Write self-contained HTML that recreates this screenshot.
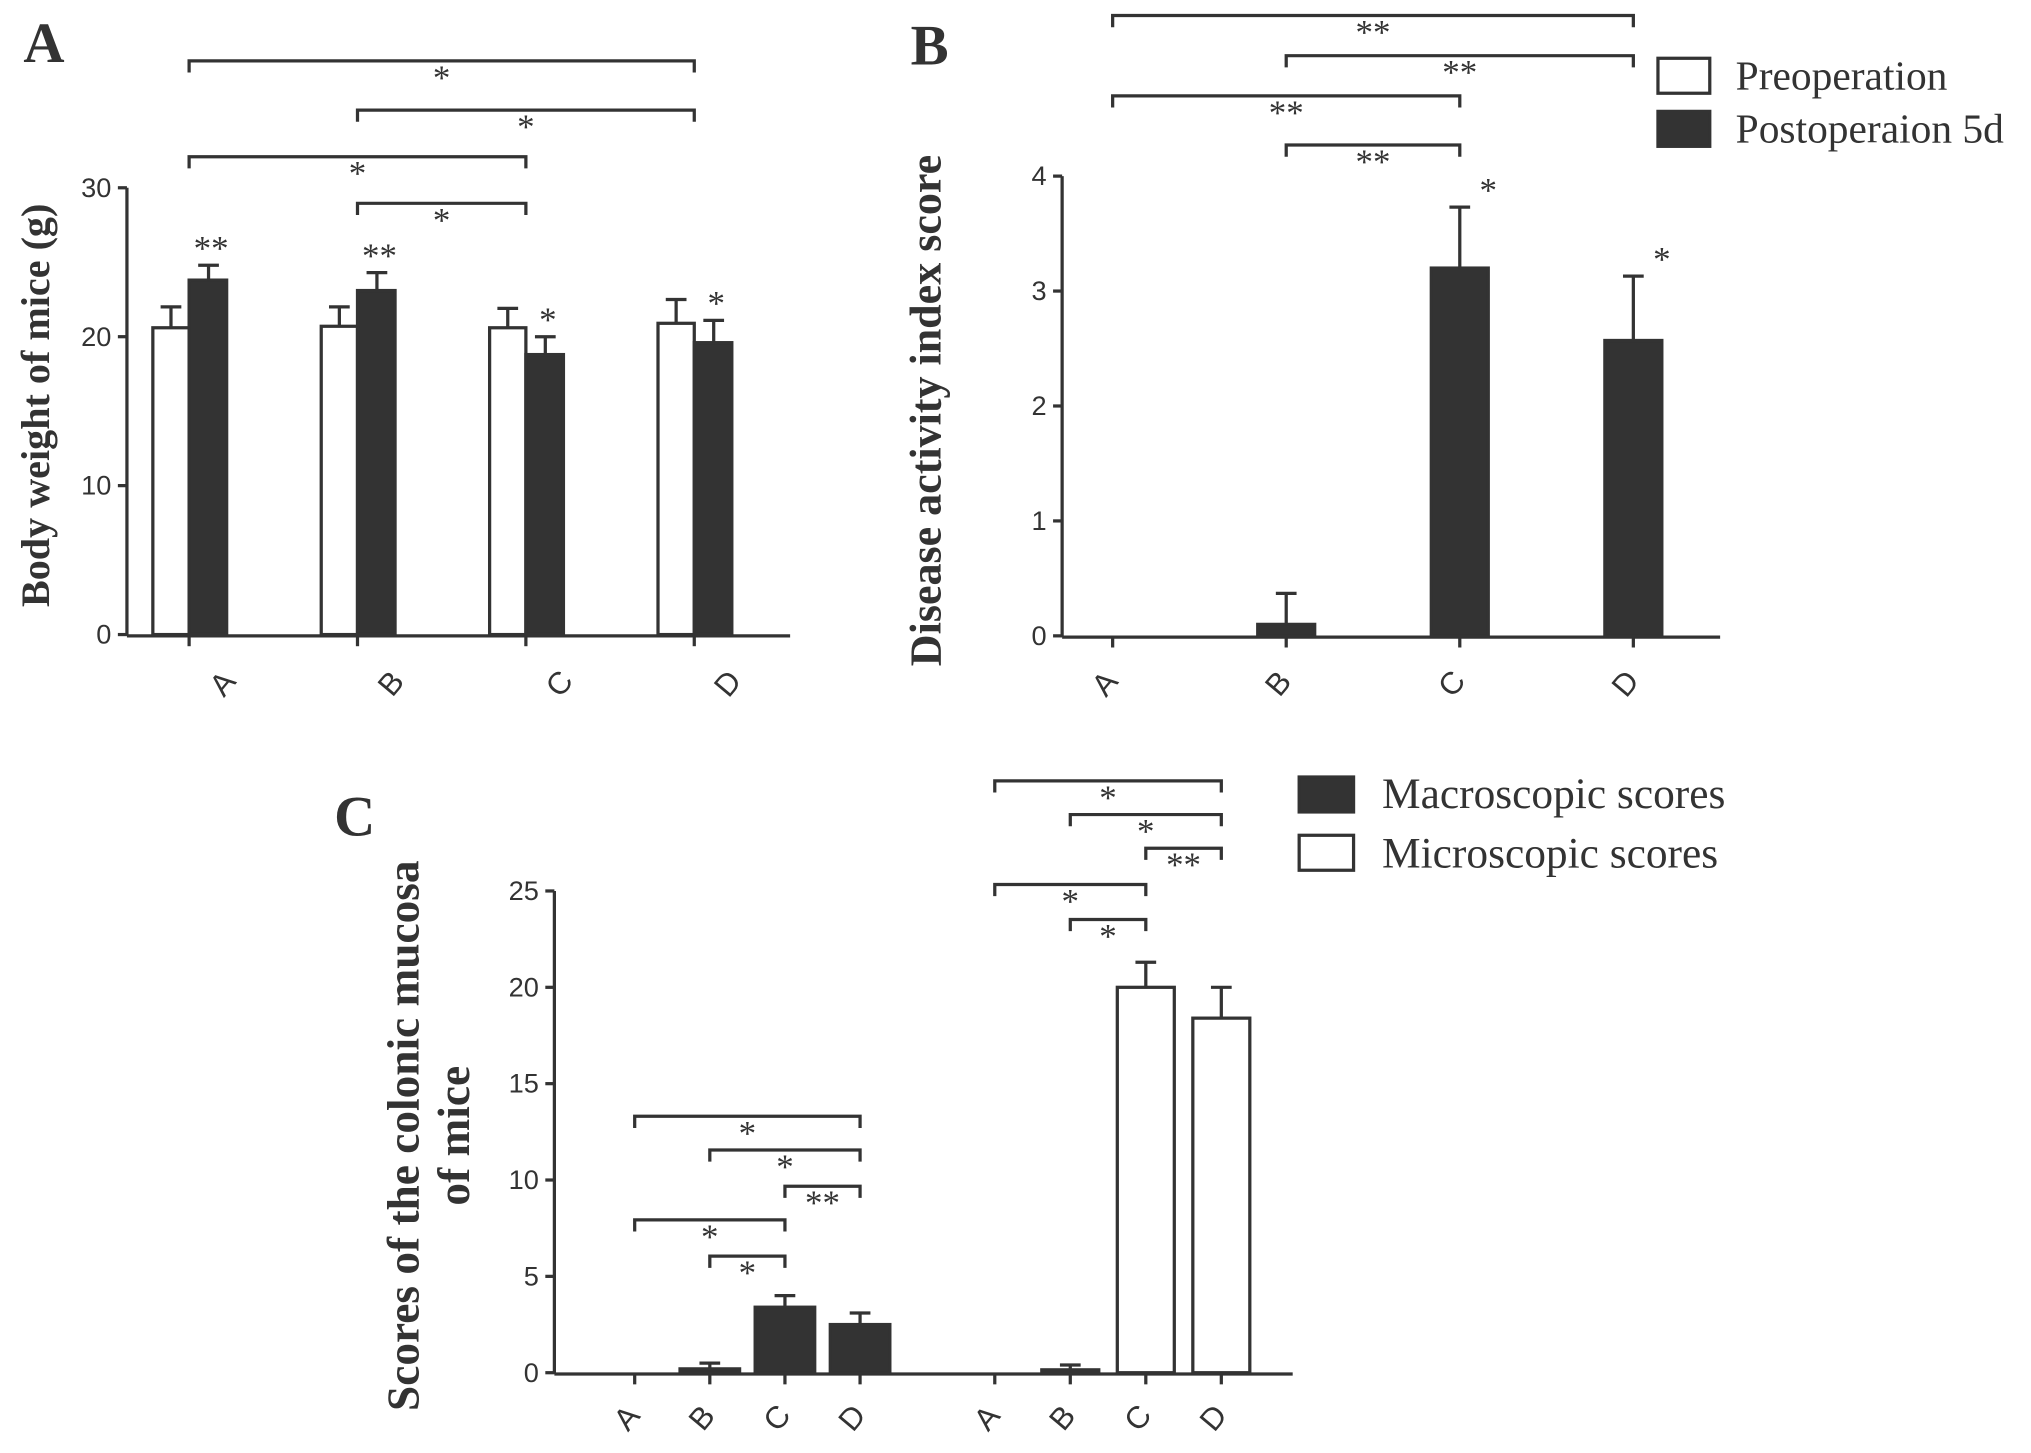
<!DOCTYPE html>
<html><head><meta charset="utf-8"><style>
html,body{margin:0;padding:0;background:#fff;}
svg{display:block;}
text{font-family:"Liberation Serif",serif;fill:#333;}
.tk{font-family:"Liberation Sans",sans-serif;font-size:21px;fill:#333;}
.xl{font-family:"Liberation Sans",sans-serif;font-size:24px;fill:#333;}
</style></head><body>
<svg id="fig" width="2031" height="1453" viewBox="0 0 1568 1122" preserveAspectRatio="none" xmlns="http://www.w3.org/2000/svg"></svg>
<script>
// Panel A data
const aCats=["A","B","C","D"];
const aPre=[20.6,20.7,20.6,20.9];
const aPreErr=[1.4,1.3,1.3,1.6];
const aPost=[23.8,23.1,18.8,19.6];
const aPostErr=[1.0,1.2,1.2,1.5];
const aTicks=[0,10,20,30];
const aStars=["**","**","*","*"];
// Panel B data
const bCats=["A","B","C","D"];
const bPost=[0,0.1,3.2,2.57];
const bErr=[0,0.27,0.53,0.56];
const bTicks=[0,1,2,3,4];
const bStars=["","","*","*"];
// Panel C data
const cCats=["A","B","C","D"];
const cMacro=[0,0.2,3.4,2.5];
const cMacroErr=[0,0.3,0.6,0.6];
const cMicro=[0,0.15,20.0,18.4];
const cMicroErr=[0,0.25,1.3,1.6];
const cTicks=[0,5,10,15,20,25];

const NS="http://www.w3.org/2000/svg";
const svg=document.getElementById('fig');
function el(tag,attrs,name,parent){const e=document.createElementNS(NS,tag);for(const k in attrs)e.setAttribute(k,attrs[k]);


(parent||svg).appendChild(e);return e;}
function txt(x,y,s,attrs,name){const t=el('text',Object.assign({x:x,y:y},attrs||{}),name);t.textContent=s;return t;}
const LS={stroke:"#333","stroke-width":2.5,fill:"none"};
function line(x1,y1,x2,y2,name){return el('line',Object.assign({x1,y1,x2,y2},LS),name);}
function bracket(x1,x2,y,label,name){
  el('path',Object.assign({d:`M${x1},${y+9}V${y}H${x2}V${y+9}`},LS),name);
  txt((x1+x2)/2,y+22,label,{"text-anchor":"middle","font-size":27,"font-family":"Liberation Sans,sans-serif"},name+'-label');
}
function bar(x,w,y0,y1,fill,name){el('rect',{x:x,y:Math.min(y0,y1),width:w,height:Math.abs(y0-y1),fill:fill,stroke:"#333","stroke-width":2.5},name);}
function err(cx,yv,ye,name){el('path',Object.assign({d:`M${cx},${yv}V${ye}M${cx-8},${ye}H${cx+8}`},LS),name);}
function rotLabel(x,y,s,name){txt(x,y,s,{"class":"xl",transform:`rotate(-50 ${x} ${y})`,"text-anchor":"middle"},name);}

// ---------- Panel A ----------
const aY=v=>490-v*11.5, aX=i=>146+i*130;
txt(18,48,"A",{"font-size":44,"font-weight":"bold",fill:"#222"},"panel-a-letter");
line(98,145,98,491,"a-y-axis");line(98,491,610,491,"a-x-axis");
aTicks.forEach(t=>{line(91,aY(t),98,aY(t),"a-y-tick");txt(86,aY(t)+7,t,{"class":"tk","text-anchor":"end"},"a-y-tick-label");});
aCats.forEach((c,i)=>{const cx=aX(i);
 line(cx,491,cx,499,"a-x-tick");
 bar(cx-28,28,aY(0),aY(aPre[i]),"#fff","a-bar-pre-"+c);
 err(cx-14,aY(aPre[i]),aY(aPre[i]+aPreErr[i]),"a-err-pre-"+c);
 bar(cx,29,aY(0),aY(aPost[i]),"#333","a-bar-post-"+c);
 err(cx+15,aY(aPost[i]),aY(aPost[i]+aPostErr[i]),"a-err-post-"+c);
 txt(cx+17,aY(aPost[i]+aPostErr[i])-4,aStars[i],{"text-anchor":"middle","font-size":27,"font-family":"Liberation Sans,sans-serif"},"a-star-"+c);
 rotLabel(cx+32,533,c,"a-x-label-"+c);});
bracket(aX(0),aX(3),47,"*","a-bracket-ad");
bracket(aX(1),aX(3),85,"*","a-bracket-bd");
bracket(aX(0),aX(2),121,"*","a-bracket-ac");
bracket(aX(1),aX(2),157,"*","a-bracket-bc");
txt(38,313,"Body weight of mice (g)",{"font-size":31,"font-weight":"bold","text-anchor":"middle",transform:"rotate(-90 38 313)"},"a-y-axis-title");

// ---------- Panel B ----------
const bY=v=>491-v*88.75, bX=i=>859+i*134;
txt(703,50,"B",{"font-size":44,"font-weight":"bold",fill:"#222"},"panel-b-letter");
line(820,136,820,492,"b-y-axis");line(820,492,1328,492,"b-x-axis");
bTicks.forEach(t=>{line(813,bY(t),820,bY(t),"b-y-tick");txt(808,bY(t)+7,t,{"class":"tk","text-anchor":"end"},"b-y-tick-label");});
bCats.forEach((c,i)=>{const cx=bX(i);
 line(cx,492,cx,500,"b-x-tick");
 if(bPost[i]>0){bar(cx-22,44,bY(0),bY(bPost[i]),"#333","b-bar-"+c);
 err(cx,bY(bPost[i]),bY(bPost[i]+bErr[i]),"b-err-"+c);}
 if(bStars[i])txt(cx+22,bY(bPost[i]+bErr[i])-4,bStars[i],{"text-anchor":"middle","font-size":27,"font-family":"Liberation Sans,sans-serif"},"b-star-"+c);
 rotLabel(cx,533,c,"b-x-label-"+c);});
bracket(bX(0),bX(3),12,"**","b-bracket-ad");
bracket(bX(1),bX(3),43,"**","b-bracket-bd");
bracket(bX(0),bX(2),74,"**","b-bracket-ac");
bracket(bX(1),bX(2),112,"**","b-bracket-bc");
txt(726,317,"Disease activity index score",{"font-size":34,"font-weight":"bold","text-anchor":"middle",transform:"rotate(-90 726 317)"},"b-y-axis-title");
el('rect',{x:1280,y:45,width:40,height:27,fill:"#fff",stroke:"#333","stroke-width":2.5},"legend-swatch-preoperation");
txt(1340,69,"Preoperation",{"font-size":32,fill:"#444"},"legend-label-preoperation");
el('rect',{x:1280,y:86,width:40,height:27,fill:"#333",stroke:"#333","stroke-width":2.5},"legend-swatch-postoperation");
txt(1340,110,"Postoperaion 5d",{"font-size":32,fill:"#444"},"legend-label-postoperation");

// ---------- Panel C ----------
const cY=v=>1060-v*14.88, cMX=i=>490+i*58, cIX=i=>768+i*58.3;
txt(258,645,"C",{"font-size":44,"font-weight":"bold",fill:"#222"},"panel-c-letter");
line(428,688,428,1061,"c-y-axis");line(428,1061,998,1061,"c-x-axis");
cTicks.forEach(t=>{line(421,cY(t),428,cY(t),"c-y-tick");txt(416,cY(t)+7,t,{"class":"tk","text-anchor":"end"},"c-y-tick-label");});
cCats.forEach((c,i)=>{let cx=cMX(i);
 line(cx,1061,cx,1069,"c-x-tick");
 if(cMacro[i]>0){bar(cx-23,46,cY(0),cY(cMacro[i]),"#333","c-bar-macro-"+c);err(cx,cY(cMacro[i]),cY(cMacro[i]+cMacroErr[i]),"c-err-macro-"+c);}
 rotLabel(cx,1100,c,"c-x-label-macro-"+c);
 cx=cIX(i);
 line(cx,1061,cx,1069,"c-x-tick");
 if(cMicro[i]>0){bar(cx-22,44,cY(0),cY(cMicro[i]),"#fff","c-bar-micro-"+c);err(cx,cY(cMicro[i]),cY(cMicro[i]+cMicroErr[i]),"c-err-micro-"+c);}
 rotLabel(cx,1100,c,"c-x-label-micro-"+c);});
bracket(cMX(0),cMX(3),862,"*","c-macro-bracket-ad");
bracket(cMX(1),cMX(3),888,"*","c-macro-bracket-bd");
bracket(cMX(2),cMX(3),916,"**","c-macro-bracket-cd");
bracket(cMX(0),cMX(2),942,"*","c-macro-bracket-ac");
bracket(cMX(1),cMX(2),970,"*","c-macro-bracket-bc");
bracket(cIX(0),cIX(3),603,"*","c-micro-bracket-ad");
bracket(cIX(1),cIX(3),629,"*","c-micro-bracket-bd");
bracket(cIX(2),cIX(3),655,"**","c-micro-bracket-cd");
bracket(cIX(0),cIX(2),683,"*","c-micro-bracket-ac");
bracket(cIX(1),cIX(2),710,"*","c-micro-bracket-bc");
txt(323,877,"Scores of the colonic mucosa",{"font-size":35,"font-weight":"bold","text-anchor":"middle",transform:"rotate(-90 323 877)"},"c-y-axis-title-line1");
txt(362,877,"of mice",{"font-size":35,"font-weight":"bold","text-anchor":"middle",transform:"rotate(-90 362 877)"},"c-y-axis-title-line2");
el('rect',{x:1003,y:600,width:42,height:27,fill:"#333",stroke:"#333","stroke-width":2.5},"legend-swatch-macroscopic");
txt(1067,624,"Macroscopic scores",{"font-size":33.5,fill:"#444"},"legend-label-macroscopic");
el('rect',{x:1003,y:645,width:42,height:27,fill:"#fff",stroke:"#333","stroke-width":2.5},"legend-swatch-microscopic");
txt(1067,670,"Microscopic scores",{"font-size":33.5,fill:"#777"},"legend-label-microscopic");
</script>
</body></html>
